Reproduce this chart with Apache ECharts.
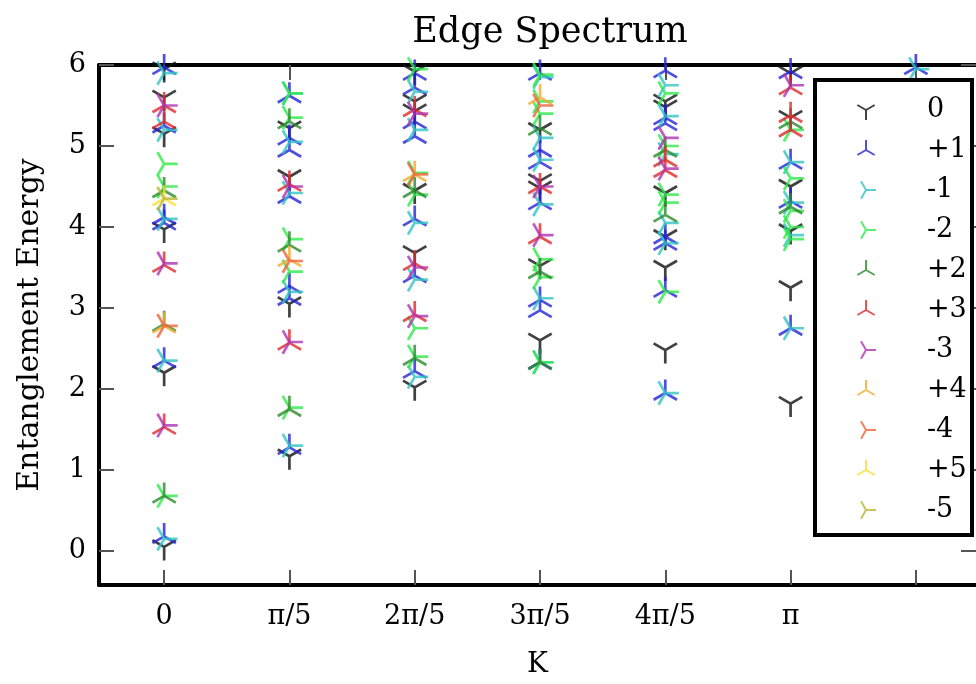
<!doctype html>
<html>
<head>
<meta charset="UTF-8">
<title>Edge Spectrum</title>
<script src="https://cdn.jsdelivr.net/npm/echarts@6/dist/echarts.min.js"></script>
<style>
  html, body { margin: 0; padding: 0; background: #fff; }
  #chart { width: 976px; height: 684px; }
</style>
</head>
<body>
<div id="chart"></div>
<script>
// tick labels of the momentum axis
var kLabels = ['0', 'π/5', '2π/5', '3π/5', '4π/5', 'π'];
var kTicks = [0, 1, 2, 3, 4, 5, 6];
var energyTicks = [0, 1, 2, 3, 4, 5, 6];

// charge sectors, in legend order
var sectorNames = ['0', '+1', '-1', '-2', '+2', '+3', '-3', '+4', '-4', '+5', '-5'];
var sectorColors = ['#111111', '#2323d8', '#33c4c4', '#2eea4a', '#2a8a2a', '#e02a2a',
                    '#b032b4', '#f0aa30', '#f0643a', '#f6e030', '#b8b834'];

// [k index, entanglement energy]
var q0 = [[0,5.95],[0,5.6],[0,5.15],[0,3.97],[0,2.2],[0,0.05],
          [1,5.22],[1,4.62],[1,3.05],[1,1.17],
          [2,5.92],[2,5.55],[2,5.43],[2,4.45],[2,3.68],[2,2.02],
          [3,5.2],[3,4.57],[3,4.48],[3,3.52],[3,2.6],
          [4,5.55],[4,5.48],[4,4.42],[4,3.88],[4,3.5],[4,2.48],
          [5,5.9],[5,5.35],[5,4.5],[5,3.95],[5,3.25],[5,1.82]];
var qP1 = [[0,5.97],[0,5.25],[0,4.12],[0,4.05],[0,2.35],[0,0.18],
           [1,5.62],[1,5.1],[1,4.95],[1,4.38],[1,3.27],[1,3.12],[1,1.28],
           [2,5.9],[2,5.72],[2,5.3],[2,5.12],[2,4.1],[2,3.4],[2,2.22],
           [3,5.9],[3,4.95],[3,4.8],[3,4.3],[3,3.1],[3,2.97],[3,2.33],
           [4,5.93],[4,5.35],[4,5.28],[4,3.88],[4,3.8],[4,3.22],[4,1.95],
           [5,5.92],[5,4.8],[5,4.32],[5,2.75],
           [6,5.97]];
var qM1 = [[0,5.9],[0,5.2],[0,4.1],[0,2.35],[0,0.15],
           [1,5.65],[1,5.05],[1,4.42],[1,3.2],[1,1.3],
           [2,5.67],[2,5.2],[2,4.05],[2,3.35],[2,2.15],
           [3,5.85],[3,5.1],[3,4.83],[3,4.28],[3,3.12],[3,2.33],
           [4,5.75],[4,5.37],[4,4.9],[4,4.05],[4,3.8],[4,1.95],
           [5,4.8],[5,4.3],[5,3.9],[5,2.75],
           [6,5.95]];
var qM2 = [[0,4.78],[0,4.5],[0,0.68],
           [1,5.65],[1,5.35],[1,3.85],[1,3.45],[1,1.77],
           [2,5.95],[2,4.67],[2,4.4],[2,2.75],[2,2.4],
           [3,5.88],[3,5.55],[3,5.4],[3,3.6],[3,3.38],[3,2.33],
           [4,5.65],[4,5.0],[4,4.4],[4,4.3],[4,3.2],
           [5,5.2],[5,4.6],[5,4.2],[5,4.0],[5,3.85]];
var qP2 = [[0,4.45],[0,2.8],[0,0.68],
           [1,5.3],[1,3.78],[1,1.75],
           [2,4.45],[2,2.38],
           [3,5.22],[3,3.45],[3,2.33],
           [4,4.95],[4,4.15],
           [5,5.3],[5,4.25]];
var qP3 = [[0,5.5],[0,5.3],[0,3.53],[0,1.53],
           [1,4.53],[1,2.57],
           [2,5.45],[2,3.55],[2,2.92],
           [3,4.5],[3,3.88],
           [4,4.83],[4,4.7],
           [5,5.72],[5,5.38],[5,5.2]];
var qM3 = [[0,5.5],[0,3.55],[0,1.55],
           [1,4.5],[1,2.58],
           [2,5.4],[2,3.5],[2,2.9],
           [3,4.5],[3,3.9],
           [4,5.1],[4,4.72],
           [5,5.75]];
var qP4 = [[0,2.78],[1,3.6],[2,4.65],[3,5.6]];
var qM4 = [[0,2.78],[1,3.58],[2,4.65],[3,5.5]];
var qP5 = [[0,4.35]];
var qM5 = [[0,4.35]];

var sectorData = [q0, qP1, qM1, qM2, qP2, qP3, qM3, qP4, qM4, qP5, qM5];

// three-armed marker as a filled path, arms at the given screen angles
function triPath(angles) {
    var L = 10, h = 1.0, s = '';
    function f(v) { return Math.round(v * 100) / 100; }
    angles.forEach(function(a) {
        var r = a * Math.PI / 180, dx = Math.cos(r), dy = Math.sin(r);
        var px = -dy * h, py = dx * h;
        s += 'M' + f(px) + ' ' + f(py) +
             'L' + f(L * dx + px) + ' ' + f(L * dy + py) +
             'L' + f(L * dx - px) + ' ' + f(L * dy - py) +
             'L' + f(-px) + ' ' + f(-py) + 'Z';
    });
    // keep the junction in the middle of the symbol box
    s += 'M-10 -10L-10 -10Z M10 10L10 10Z';
    return 'path://' + s;
}
var triDown = triPath([90, 210, 330]);
var triUp = triPath([270, 30, 150]);
var triRight = triPath([0, 120, 240]);

function markerFor(name) {
    if (name === '0') return triDown;
    return name.charAt(0) === '+' ? triUp : triRight;
}

var serif = 'DejaVu Serif';
var series = sectorNames.map(function(name, i) {
    return {
        name: name,
        type: 'scatter',
        xAxisIndex: 0,
        yAxisIndex: 0,
        data: sectorData[i],
        symbol: markerFor(name),
        symbolSize: 27,
        itemStyle: { color: sectorColors[i], opacity: 0.8 },
        z: 2
    };
});

var tickStyle = { show: true, inside: true, length: 15, lineStyle: { color: '#555', width: 2 } };
var frameLine = { show: true, onZero: false, lineStyle: { color: '#000', width: 4 } };

var chart = echarts.init(document.getElementById('chart'));
chart.setOption({
    animation: false,
    backgroundColor: '#fff',
    title: {
        text: 'Edge Spectrum',
        left: 545,
        top: 10,
        textAlign: 'center',
        textStyle: { fontFamily: serif, fontSize: 35, fontWeight: 'normal', color: '#000' }
    },
    grid: { left: 99, top: 65, width: 877, height: 520, show: false },
    xAxis: [{
        type: 'value', min: -0.52, max: 6.48, position: 'bottom',
        name: 'K', nameLocation: 'middle', nameGap: 66,
        nameTextStyle: { fontFamily: serif, fontSize: 28, color: '#000' },
        axisLine: frameLine,
        splitLine: { show: false },
        axisTick: Object.assign({ customValues: kTicks }, tickStyle),
        axisLabel: {
            customValues: [0, 1, 2, 3, 4, 5],
            formatter: function(v) { return kLabels[Math.round(v)]; },
            margin: 18, fontFamily: serif, fontSize: 27, color: '#000'
        }
    }, {
        type: 'value', min: -0.52, max: 6.48, position: 'top',
        axisLine: frameLine, splitLine: { show: false },
        axisTick: Object.assign({ customValues: kTicks }, tickStyle),
        axisLabel: { show: false }
    }],
    yAxis: [{
        type: 'value', min: -0.42, max: 6, position: 'left',
        name: 'Entanglement Energy', nameLocation: 'middle', nameGap: 54,
        nameTextStyle: { fontFamily: serif, fontSize: 30, color: '#000' },
        axisLine: frameLine, splitLine: { show: false },
        axisTick: Object.assign({ customValues: energyTicks }, tickStyle),
        axisLabel: {
            customValues: energyTicks,
            margin: 13, fontFamily: serif, fontSize: 27, color: '#000'
        }
    }, {
        type: 'value', min: -0.42, max: 6, position: 'right',
        axisLine: { show: false, onZero: false }, splitLine: { show: false },
        axisTick: Object.assign({ customValues: energyTicks }, tickStyle),
        axisLabel: { show: false }
    }],
    graphic: [{
        type: 'rect', z: 20,
        shape: { x: 815, y: 80, width: 157, height: 455 },
        style: { fill: '#fff', stroke: '#000', lineWidth: 4 }
    }],
    legend: {
        orient: 'vertical',
        left: 851, top: 91,
        z: 30,
        data: sectorNames,
        itemWidth: 20, itemHeight: 20, itemGap: 12,
        selectedMode: false,
        textStyle: {
            fontFamily: serif, fontSize: 27, lineHeight: 28, color: '#000',
            padding: [0, 0, 0, 46]
        }
    },
    series: series
});
</script>
</body>
</html>
